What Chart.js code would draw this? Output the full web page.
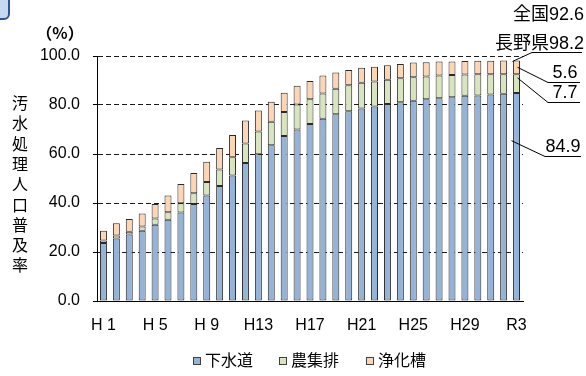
<!DOCTYPE html>
<html>
<head>
<meta charset="utf-8">
<style>
  html, body { margin: 0; padding: 0; background: #fff; }
  #wrap { position: relative; width: 586px; height: 376px; }
  canvas { display: block; }
</style>
<script src="https://cdn.jsdelivr.net/npm/chart.js@4/dist/chart.umd.min.js"></script>
</head>
<body>
<div id="wrap"><canvas id="c" width="586" height="376"></canvas></div>
<script>
// 年度（H1〜R3）
const years = ['H 1','H 2','H 3','H 4','H 5','H 6','H 7','H 8','H 9','H10',
  'H11','H12','H13','H14','H15','H16','H17','H18','H19','H20',
  'H21','H22','H23','H24','H25','H26','H27','H28','H29','H30',
  'R1','R2','R3'];

// 下水道
const sewer = [23.7, 25.5, 27.1, 28.7, 31.1, 33.2, 36.1, 39.6, 43.1, 46.9,
  51.2, 56.3, 59.9, 63.6, 67.3, 70.0, 72.2, 74.4, 76.2, 77.5,
  78.6, 79.4, 80.4, 81.1, 81.7, 82.3, 82.8, 83.2, 83.8, 83.9,
  84.3, 84.6, 84.9];

// 農業集落排水
const farm = [1.0, 1.2, 1.2, 1.7, 2.6, 3.0, 3.8, 4.4, 5.5, 6.8,
  7.5, 8.0, 9.3, 9.6, 9.8, 10.2, 10.1, 10.3, 10.4, 10.6,
  10.5, 10.2, 9.9, 9.8, 9.6, 9.3, 9.2, 9.0, 8.7, 8.7,
  8.3, 8.0, 7.7];

// 浄化槽
const septic = [4.0, 5.0, 5.2, 5.3, 5.9, 6.9, 7.9, 8.2, 8.2, 8.7,
  9.1, 9.4, 8.6, 8.1, 7.9, 7.7, 7.5, 7.3, 6.7, 6.2,
  6.1, 6.0, 5.9, 5.8, 6.0, 5.8, 5.8, 5.6, 5.5, 5.5,
  5.5, 5.6, 5.6];

const seriesNames = ['下水道', '農集排', '浄化槽'];
const seriesColors = ['#95B3D7', '#D7E4BD', '#FCD5B5'];
const yTicks = [0, 20, 40, 60, 80, 100];
const nationalRate = 92.6;
const axisTitle = '汚水処理人口普及率';
const unitLabel = '（%）';

const FONT = '"Liberation Sans", "Noto Sans CJK JP", sans-serif';
const CJK = '"Noto Sans CJK JP", "Liberation Sans", sans-serif';

const extras = {
  id: 'extras',
  afterDraw(chart) {
    const ctx = chart.ctx;
    const y = chart.scales.y;
    ctx.save();

    // 左上の枠の一部
    ctx.beginPath();
    ctx.roundRect(-12, -12, 21, 31, 5);
    ctx.fillStyle = '#C6D9F1';
    ctx.fill();
    ctx.lineWidth = 2;
    ctx.strokeStyle = '#2F5597';
    ctx.stroke();

    // 縦書きの軸タイトル
    ctx.fillStyle = '#000';
    ctx.font = '16px ' + CJK;
    ctx.textAlign = 'center';
    ctx.textBaseline = 'middle';
    [...axisTitle].forEach((ch, i) => ctx.fillText(ch, 20, 103 + i * 20.3));

    // 単位
    ctx.font = 'bold 16px ' + CJK;
    ctx.fillText(unitLabel, 60, 33);

    // 凡例
    const legendX = [193, 279, 366];
    ctx.font = '16px ' + CJK;
    ctx.textAlign = 'left';
    chart.data.datasets.forEach((ds, i) => {
      ctx.fillStyle = ds.backgroundColor;
      ctx.fillRect(legendX[i] + 0.5, 357.5, 7, 7);
      ctx.strokeStyle = '#404040';
      ctx.lineWidth = 1;
      ctx.strokeRect(legendX[i] + 0.5, 357.5, 7, 7);
      ctx.fillStyle = '#000';
      ctx.fillText(ds.label, legendX[i] + 12, 360);
    });

    // 最新年度の注記
    const last = years.length - 1;
    const bars = chart.data.datasets.map((_, i) => chart.getDatasetMeta(i).data[last]);
    const total = sewer[last] + farm[last] + septic[last];
    const mid = (b, f) => b.y + (b.base - b.y) * f;

    ctx.strokeStyle = '#000';
    ctx.lineWidth = 1;
    const leader = (x1, y1, x2, y2, x3) => {
      ctx.beginPath();
      ctx.moveTo(x1, y1);
      ctx.lineTo(x2, y2);
      ctx.lineTo(x3, y2);
      ctx.stroke();
    };
    leader(bars[2].x - 4, y.getPixelForValue(total) + 1, 532, 52.5, 582);
    leader(bars[2].x + 1, mid(bars[2], 0.5), 548, 82.5, 580);
    leader(bars[1].x + 1, mid(bars[1], 0.2), 548, 102.5, 580);
    leader(bars[0].x - 5, mid(bars[0], 0.23), 545, 156.5, 581);

    ctx.fillStyle = '#000';
    ctx.textAlign = 'right';
    ctx.textBaseline = 'middle';
    ctx.font = '18px ' + FONT;
    ctx.fillText('全国' + nationalRate.toFixed(1), 584, 15);
    ctx.fillText('長野県' + total.toFixed(1), 584, 44);
    ctx.textAlign = 'center';
    ctx.fillText(septic[last].toFixed(1), 565, 73);
    ctx.fillText(farm[last].toFixed(1), 565, 93);
    ctx.fillText(sewer[last].toFixed(1), 563, 147);

    ctx.restore();
  }
};

new Chart(document.getElementById('c'), {
  type: 'bar',
  data: {
    labels: years,
    datasets: [sewer, farm, septic].map((d, i) => ({
      label: seriesNames[i],
      data: d,
      backgroundColor: seriesColors[i],
      borderColor: '#2a2a2a',
      borderWidth: 1,
      borderSkipped: false,
      categoryPercentage: 1.0,
      barPercentage: 0.54
    }))
  },
  options: {
    responsive: false,
    animation: false,
    devicePixelRatio: 1,
    layout: { padding: { left: 0, right: 63, top: 56, bottom: 35 } },
    plugins: { legend: { display: false }, tooltip: { enabled: false } },
    scales: {
      x: {
        stacked: true,
        grid: { display: false, drawTicks: false },
        border: { display: true, color: '#000', width: 1 },
        ticks: {
          autoSkip: false,
          maxRotation: 0,
          padding: 15,
          color: '#000',
          font: { family: FONT, size: 16 },
          callback: (v, i) => (i % 4 === 0 ? years[i] : '')
        },
        afterFit: s => { s.height = 40; }
      },
      y: {
        stacked: true,
        min: 0,
        max: 100,
        afterBuildTicks: s => { s.ticks = yTicks.map(v => ({ value: v })); },
        grid: { color: '#1a1a1a', lineWidth: 1, tickLength: 4, tickColor: '#000' },
        border: { display: true, color: '#000', width: 1, dash: [5, 3] },
        ticks: {
          padding: 13,
          color: '#000',
          font: { family: FONT, size: 16 },
          callback: v => v.toFixed(1)
        },
        afterFit: s => { s.width = 97; }
      }
    }
  },
  plugins: [extras]
});
</script>
</body>
</html>
